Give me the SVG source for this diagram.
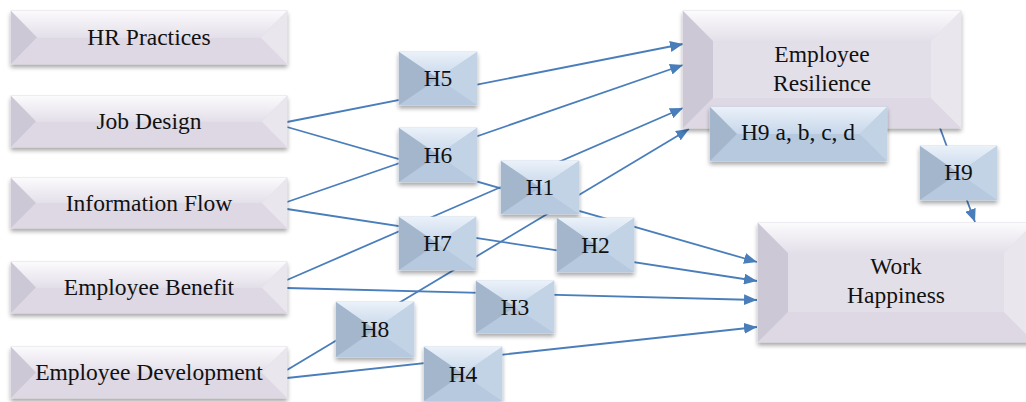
<svg xmlns="http://www.w3.org/2000/svg" width="1026" height="402" viewBox="0 0 1026 402">
<style>
.base{filter:url(#sh)}
.lb{fill:#e3dfe9;stroke:#d9d5df;stroke-width:0.8}
.lt{fill:url(#gl)}
.ll{fill:#cdc8d6}
.lr{fill:#e9e6ee}
.lo{fill:#ddd8e3}
.hb{fill:#b9cce2;stroke:#c6d5e6;stroke-width:0.8}
.ht{fill:url(#gh)}
.hl{fill:#a3b6cc}
.hr{fill:#c3d3e6}
.ho{fill:#b6c9df}
.c{fill:none;stroke:#4a7ebb;stroke-width:1.8}
.a{marker-end:url(#ar)}
text{font-family:'Liberation Serif','Times New Roman',serif;font-size:23.5px;fill:#111;text-anchor:middle}
</style>
<defs>
<filter id="sh" x="-10%" y="-10%" width="120%" height="140%">
<feDropShadow dx="0" dy="3" stdDeviation="2.2" flood-color="#000" flood-opacity="0.35"/>
</filter>
<linearGradient id="gl" x1="0" y1="0" x2="0" y2="1">
<stop offset="0" stop-color="#fbfafc"/>
<stop offset="1" stop-color="#e4e0ea"/>
</linearGradient>
<linearGradient id="gh" x1="0" y1="0" x2="0" y2="1">
<stop offset="0" stop-color="#eaf1f9"/>
<stop offset="1" stop-color="#c7d7ea"/>
</linearGradient>
<marker id="ar" markerUnits="userSpaceOnUse" markerWidth="14" markerHeight="11" refX="13" refY="5.5" orient="auto">
<path d="M0,0 L13,5.5 L0,11 z" fill="#4a7ebb"/>
</marker>
</defs>

<g id="connectors">
<line class="c a" x1="287" y1="122" x2="683" y2="44"/>
<line class="c a" x1="287" y1="127" x2="757" y2="262"/>
<line class="c a" x1="287" y1="202" x2="683" y2="65"/>
<line class="c a" x1="287" y1="209" x2="757" y2="281"/>
<line class="c a" x1="287" y1="280" x2="683" y2="108"/>
<line class="c a" x1="287" y1="288" x2="757" y2="300"/>
<line class="c a" x1="287" y1="370" x2="689" y2="129"/>
<line class="c a" x1="287" y1="378" x2="757" y2="327"/>
<line class="c a" x1="940" y1="128" x2="975" y2="222"/>
</g>

<g id="hr-practices">
<rect class="base lb" x="11" y="11" width="276" height="53"/>
<polygon class="lt" points="11,11 287,11 261,37 37,37"/>
<polygon class="lo" points="11,64 37,38 261,38 287,64"/>
<polygon class="ll" points="11,11 37,37.5 11,64"/>
<polygon class="lr" points="287,11 261,37.5 287,64"/>
<text x="149" y="45">HR Practices</text>
</g>

<g id="job-design">
<rect class="base lb" x="11" y="96" width="276" height="51"/>
<polygon class="lt" points="11,96 287,96 262,121 36,121"/>
<polygon class="lo" points="11,147 36,122 262,122 287,147"/>
<polygon class="ll" points="11,96 36,121.5 11,147"/>
<polygon class="lr" points="287,96 262,121.5 287,147"/>
<text x="149" y="129">Job Design</text>
</g>

<g id="information-flow">
<rect class="base lb" x="11" y="178" width="276" height="50"/>
<polygon class="lt" points="11,178 287,178 262,203 36,203"/>
<polygon class="lo" points="11,228 36,203 262,203 287,228"/>
<polygon class="ll" points="11,178 36,203 11,228"/>
<polygon class="lr" points="287,178 262,203 287,228"/>
<text x="149" y="211">Information Flow</text>
</g>

<g id="employee-benefit">
<rect class="base lb" x="11" y="262" width="276" height="51"/>
<polygon class="lt" points="11,262 287,262 262,287 36,287"/>
<polygon class="lo" points="11,313 36,288 262,288 287,313"/>
<polygon class="ll" points="11,262 36,287.5 11,313"/>
<polygon class="lr" points="287,262 262,287.5 287,313"/>
<text x="149" y="295">Employee Benefit</text>
</g>

<g id="employee-development">
<rect class="base lb" x="11" y="347" width="276" height="51"/>
<polygon class="lt" points="11,347 287,347 262,372 36,372"/>
<polygon class="lo" points="11,398 36,373 262,373 287,398"/>
<polygon class="ll" points="11,347 36,372.5 11,398"/>
<polygon class="lr" points="287,347 262,372.5 287,398"/>
<text x="149" y="380">Employee Development</text>
</g>

<g id="employee-resilience">
<rect class="base lb" x="683" y="11" width="278" height="117"/>
<polygon class="lt" points="683,11 961,11 931,41 713,41"/>
<polygon class="lo" points="683,128 713,98 931,98 961,128"/>
<polygon class="ll" points="683,11 713,41 713,98 683,128"/>
<polygon class="lr" points="961,11 931,41 931,98 961,128"/>
<text x="822" y="62">Employee</text>
<text x="822" y="91">Resilience</text>
</g>

<g id="work-happiness">
<rect class="base lb" x="758" y="223" width="276" height="119"/>
<polygon class="lt" points="758,223 1034,223 1004,253 788,253"/>
<polygon class="lo" points="758,342 788,312 1004,312 1034,342"/>
<polygon class="ll" points="758,223 788,253 788,312 758,342"/>
<polygon class="lr" points="1034,223 1004,253 1004,312 1034,342"/>
<text x="896" y="274">Work</text>
<text x="896" y="303">Happiness</text>
</g>

<g id="h9abcd">
<rect class="base hb" x="710" y="107" width="177" height="54"/>
<polygon class="ht" points="710,107 887,107 860,134 737,134"/>
<polygon class="ho" points="710,161 737,134 860,134 887,161"/>
<polygon class="hl" points="710,107 737,134 710,161"/>
<polygon class="hr" points="887,107 860,134 887,161"/>
<text x="798" y="140">H9 a, b, c, d</text>
</g>

<g id="h9">
<rect class="base hb" x="920" y="146" width="77" height="54"/>
<polygon class="ht" points="920,146 997,146 958.5,173"/>
<polygon class="ho" points="920,200 958.5,173 997,200"/>
<polygon class="hl" points="920,146 958.5,173 920,200"/>
<polygon class="hr" points="997,146 958.5,173 997,200"/>
<text x="958.5" y="180">H9</text>
</g>

<g id="h5">
<rect class="base hb" x="399" y="52" width="78" height="53"/>
<polygon class="ht" points="399,52 477,52 438,78.5"/>
<polygon class="ho" points="399,105 438,78.5 477,105"/>
<polygon class="hl" points="399,52 438,78.5 399,105"/>
<polygon class="hr" points="477,52 438,78.5 477,105"/>
<text x="438" y="86">H5</text>
</g>

<g id="h6">
<rect class="base hb" x="399" y="128" width="78" height="54"/>
<polygon class="ht" points="399,128 477,128 438,155"/>
<polygon class="ho" points="399,182 438,155 477,182"/>
<polygon class="hl" points="399,128 438,155 399,182"/>
<polygon class="hr" points="477,128 438,155 477,182"/>
<text x="438" y="162.5">H6</text>
</g>

<g id="h1">
<rect class="base hb" x="501" y="161" width="78" height="53"/>
<polygon class="ht" points="501,161 579,161 540,187.5"/>
<polygon class="ho" points="501,214 540,187.5 579,214"/>
<polygon class="hl" points="501,161 540,187.5 501,214"/>
<polygon class="hr" points="579,161 540,187.5 579,214"/>
<text x="540" y="195">H1</text>
</g>

<g id="h7">
<rect class="base hb" x="399" y="217" width="77" height="53"/>
<polygon class="ht" points="399,217 476,217 437.5,243.5"/>
<polygon class="ho" points="399,270 437.5,243.5 476,270"/>
<polygon class="hl" points="399,217 437.5,243.5 399,270"/>
<polygon class="hr" points="476,217 437.5,243.5 476,270"/>
<text x="437.5" y="251">H7</text>
</g>

<g id="h2">
<rect class="base hb" x="557" y="218" width="77" height="54"/>
<polygon class="ht" points="557,218 634,218 595.5,245"/>
<polygon class="ho" points="557,272 595.5,245 634,272"/>
<polygon class="hl" points="557,218 595.5,245 557,272"/>
<polygon class="hr" points="634,218 595.5,245 634,272"/>
<text x="595.5" y="252.5">H2</text>
</g>

<g id="h3">
<rect class="base hb" x="476" y="281" width="78" height="52"/>
<polygon class="ht" points="476,281 554,281 515,307"/>
<polygon class="ho" points="476,333 515,307 554,333"/>
<polygon class="hl" points="476,281 515,307 476,333"/>
<polygon class="hr" points="554,281 515,307 554,333"/>
<text x="515" y="314.5">H3</text>
</g>

<g id="h8">
<rect class="base hb" x="336" y="302" width="78" height="55"/>
<polygon class="ht" points="336,302 414,302 375,329.5"/>
<polygon class="ho" points="336,357 375,329.5 414,357"/>
<polygon class="hl" points="336,302 375,329.5 336,357"/>
<polygon class="hr" points="414,302 375,329.5 414,357"/>
<text x="375" y="337">H8</text>
</g>

<g id="h4">
<rect class="base hb" x="424" y="347" width="78" height="54"/>
<polygon class="ht" points="424,347 502,347 463,374"/>
<polygon class="ho" points="424,401 463,374 502,401"/>
<polygon class="hl" points="424,347 463,374 424,401"/>
<polygon class="hr" points="502,347 463,374 502,401"/>
<text x="463" y="381.5">H4</text>
</g>
</svg>
